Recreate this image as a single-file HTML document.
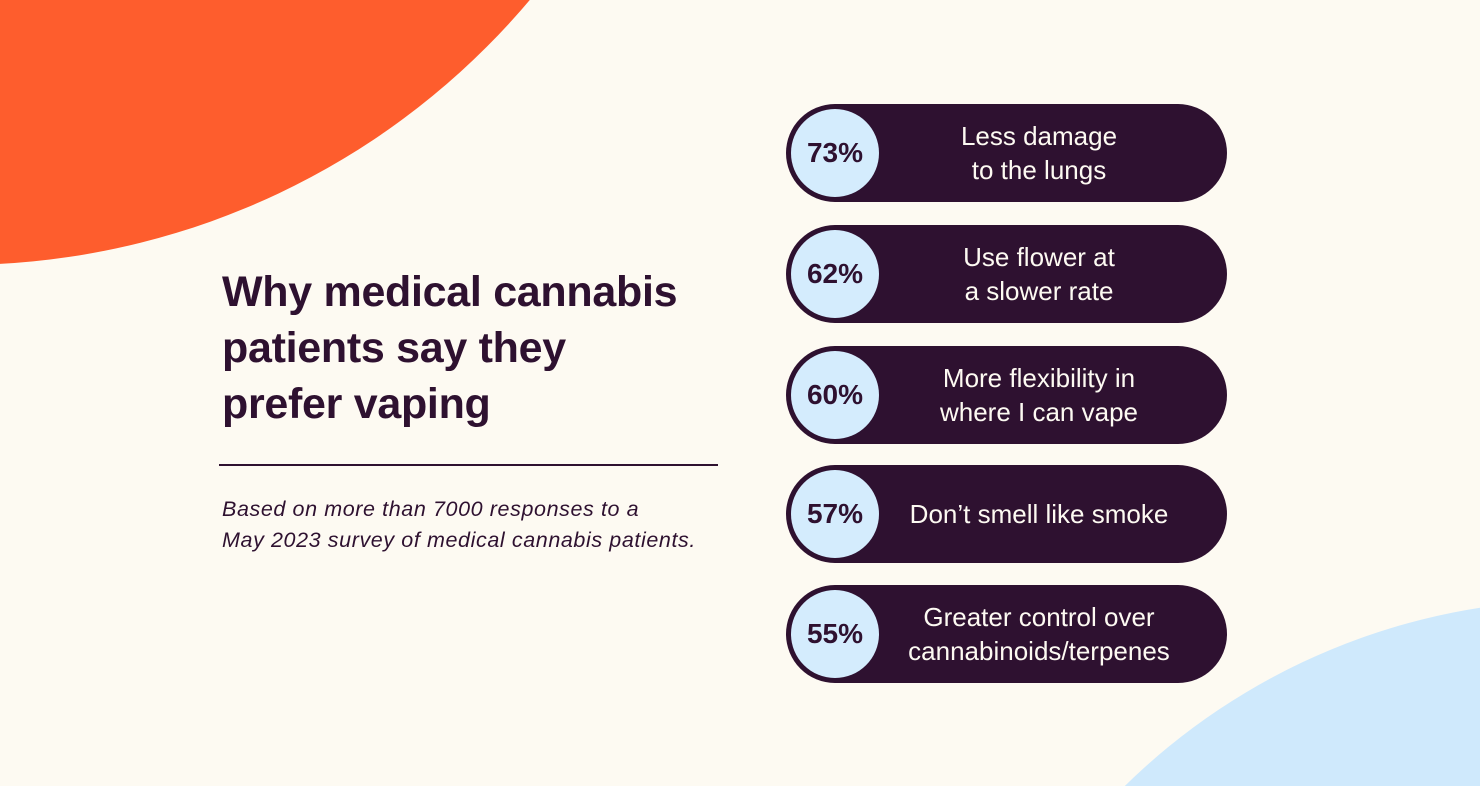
<!DOCTYPE html>
<html><head><style>
html,body{margin:0;width:1480px;height:786px;overflow:hidden;}
#w{position:relative;width:1480px;height:786px;overflow:hidden;background:#fdfaf2;font-family:"Liberation Sans",sans-serif;}
.o{position:absolute;left:-785px;top:-1225px;width:1490px;height:1490px;border-radius:50%;background:#fe5d2d;}
.b{position:absolute;left:930px;top:600px;width:1300px;height:1300px;border-radius:50%;background:#cfe9fc;}
h1{position:absolute;left:222px;top:264px;margin:0;font-size:43px;line-height:56px;font-weight:bold;color:#2e1130;letter-spacing:-0.3px;}
.rule{position:absolute;left:219px;top:464px;width:499px;height:2px;background:#2e1130;}
.sub{position:absolute;left:222px;top:494px;font-size:21.5px;line-height:31px;font-style:italic;color:#2e1130;letter-spacing:0.6px;}
.pill{position:absolute;left:786px;width:441px;height:98px;border-radius:49px;background:#2e1130;}
.c{position:absolute;left:5px;top:5px;width:88px;height:88px;border-radius:50%;background:#d4ecfd;color:#2e1130;font-weight:bold;font-size:28px;line-height:88px;text-align:center;}
.t{position:absolute;left:105px;right:40px;top:0;height:98px;display:flex;align-items:center;justify-content:center;text-align:center;color:#fdfaf2;font-size:26px;line-height:34px;white-space:nowrap;}
</style></head><body><div id="w">
<div class="o"></div><div class="b"></div>
<h1>Why medical cannabis<br>patients say they<br>prefer vaping</h1>
<div class="rule"></div>
<div class="sub">Based on more than 7000 responses to a<br>May 2023 survey of medical cannabis patients.</div>
<div class="pill" style="top:104px"><div class="c">73%</div><div class="t">Less damage<br>to the lungs</div></div>
<div class="pill" style="top:225px"><div class="c">62%</div><div class="t">Use flower at<br>a slower rate</div></div>
<div class="pill" style="top:346px"><div class="c">60%</div><div class="t">More flexibility in<br>where I can vape</div></div>
<div class="pill" style="top:465px"><div class="c">57%</div><div class="t">Don’t smell like smoke</div></div>
<div class="pill" style="top:585px"><div class="c">55%</div><div class="t">Greater control over<br>cannabinoids/terpenes</div></div>
</div></body></html>
